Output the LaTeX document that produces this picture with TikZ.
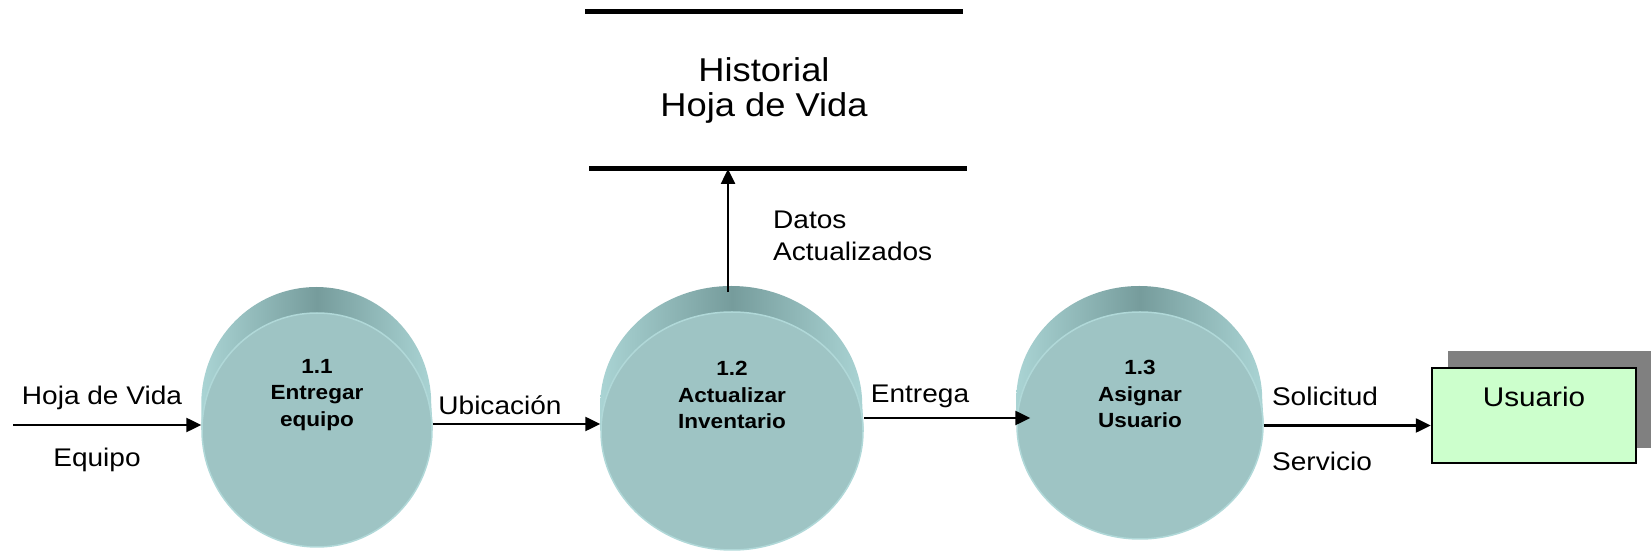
\documentclass[tikz,border=0pt]{standalone}
\usepackage{fontspec}
\setmainfont[FakeStretch=1.1]{Liberation Sans}
\usetikzlibrary{arrows.meta}
\usetikzlibrary{shapes}
\usetikzlibrary{calc}
\usetikzlibrary{positioning}
\usetikzlibrary{backgrounds}

\definecolor{procfill}{RGB}{158,196,196}
\definecolor{procrim}{RGB}{176,216,216}
\definecolor{procdark}{RGB}{118,156,156}
\definecolor{proclight}{RGB}{170,212,212}
\definecolor{entfill}{RGB}{204,255,204}
\definecolor{entshadow}{RGB}{128,128,128}

\begin{document}
\begin{tikzpicture}
    [   x = 1pt, y = 1pt
    ,   > = {Triangle[length=15pt,width=14pt]}
    ,   flow/.style = {->, line width=2.5pt}
    ,   lbl/.style = {font=\fontsize{25.5}{32}\selectfont, inner sep=0pt}
    ,   proc/.style = {ellipse, fill=procfill, draw=procrim, line width=1.5pt, inner sep=0pt}
    ,   proctext/.style = {font=\bfseries\fontsize{20.5}{26.5}\selectfont, align=center, inner sep=0pt}
    ]
    \useasboundingbox (0,0) rectangle (1651,551);

    \node[proc, minimum width=230, minimum height=234] (P1) at (317,121) {};
    \node[proc, minimum width=262, minimum height=238] (P2) at (732,120) {};
    \node[proc, minimum width=246, minimum height=227] (P3) at (1140,125.5) {};

    \begin{scope}[on background layer]
        \shade[left color=proclight, right color=proclight, middle color=procdark]
        (P1.west) -- ++(0,26) arc[start angle=180, end angle=0, x radius=115, y radius=117] -- (P1.east) -- cycle;
        \shade[left color=proclight, right color=proclight, middle color=procdark]
        (P2.west) -- ++(0,26) arc[start angle=180, end angle=0, x radius=131, y radius=119] -- (P2.east) -- cycle;
        \shade[left color=proclight, right color=proclight, middle color=procdark]
        (P3.west) -- ++(0,26) arc[start angle=180, end angle=0, x radius=123, y radius=113.5] -- (P3.east) -- cycle;
    \end{scope}

    \node[proctext] (T1) at (317,156) {1.1\\Entregar\\equipo};
    \node[proctext] (T2) at (732,156) {1.2\\Actualizar\\Inventario};
    \node[proctext] (T3) at (1140,157) {1.3\\Asignar\\Usuario};

    % almacen
    \coordinate (S1a) at (585,539);
    \coordinate (S1b) at (963,539);
    \coordinate (S2a) at (589,382);
    \coordinate (S2b) at (967,382);
    \draw[line width=5pt] (S1a) -- (S1b);
    \draw[line width=5pt] (S2a) -- (S2b);
    \node[font=\fontsize{33}{35}\selectfont, align=center, inner sep=0pt] (H) at (764,461)
    {Historial\\Hoja de Vida};

    \draw[flow] ($(P2.north)+(-4,19)$) coordinate (U) -- (U |- S2a);
    \node[lbl, anchor=west, align=left] (D) at (773,315) {Datos\\Actualizados};

    % entidad
    \node[rectangle, fill=entfill, draw=black, line width=2.5pt,
          minimum width=204, minimum height=95] (Usr) at (1534,135.5) {};
    \begin{scope}[on background layer]
        \fill[entshadow] ($(Usr.south west)+(17,16)$) rectangle ($(Usr.north east)+(17,16)$);
    \end{scope}
    \node[font=\fontsize{27}{32}\selectfont, inner sep=0pt] (UsrT) at ($(Usr.north)+(0,-30)$) {Usuario};

    % flujos
    \coordinate (In) at (13,126);
    \draw[flow] (In) -- (In -| P1.west);
    \node[lbl] (L1) at (102,153) {Hoja de Vida};
    \node[lbl] (L2) at (97,91) {Equipo};

    \draw[flow] ($(P1.east)+(0,6)$) -- ($(P2.west)+(0,7)$);
    \node[lbl] (L3) at (500,146) {Ubicación};

    \draw[flow] ($(P2.east)+(0,13)$) -- ($(P3.west)+(14,7.5)$);
    \node[lbl] (L4) at (920,155) {Entrega};

    \draw[flow] (P3.east) -- (P3.east -| Usr.west);
    \node[lbl] (L5) at (1325,155) {Solicitud};
    \node[lbl] (L6) at (1322,90) {Servicio};
\end{tikzpicture}
\end{document}
